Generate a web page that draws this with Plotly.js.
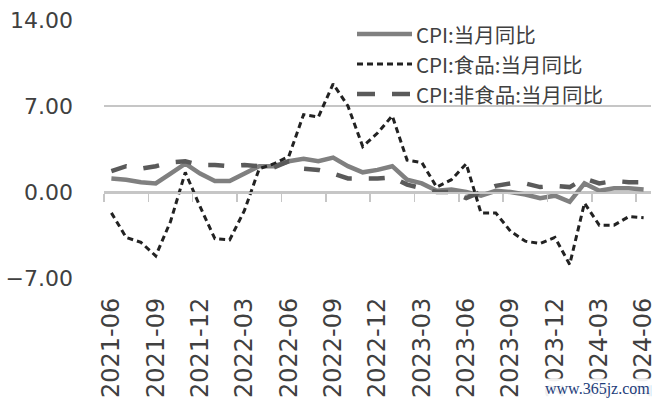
<!DOCTYPE html>
<html><head><meta charset="utf-8">
<script src="https://cdn.plot.ly/plotly-3.0.1.min.js"></script>
<style>html,body{margin:0;padding:0;background:#fff}#chart{width:666px;height:402px}</style>
</head><body><div id="chart"></div>
<script>
const months = ['2021-06','2021-07','2021-08','2021-09','2021-10','2021-11','2021-12',
  '2022-01','2022-02','2022-03','2022-04','2022-05','2022-06','2022-07','2022-08','2022-09','2022-10','2022-11','2022-12',
  '2023-01','2023-02','2023-03','2023-04','2023-05','2023-06','2023-07','2023-08','2023-09','2023-10','2023-11','2023-12',
  '2024-01','2024-02','2024-03','2024-04','2024-05','2024-06'];
const cpiTotal = [1.1,1.0,0.8,0.7,1.5,2.3,1.5, 0.9,0.9,1.5,2.1,2.1,2.5,2.7,2.5,2.8,2.1,1.6,1.8, 2.1,1.0,0.7,0.1,0.2,0.0,-0.3,0.1,0.0,-0.2,-0.5,-0.3, -0.8,0.7,0.1,0.3,0.3,0.2];
const cpiFood = [-1.7,-3.7,-4.1,-5.2,-2.4,1.6,-1.2, -3.8,-3.9,-1.5,1.9,2.3,2.9,6.3,6.1,8.8,7.0,3.7,4.8, 6.2,2.6,2.4,0.4,1.0,2.3,-1.7,-1.7,-3.2,-4.0,-4.2,-3.7, -5.9,-0.9,-2.7,-2.7,-2.0,-2.1];
const cpiNonFood = [1.7,2.1,1.9,2.1,2.4,2.5,2.2, 2.2,2.1,2.2,2.1,2.0,2.5,1.9,1.8,1.5,1.1,1.1,1.1, 1.2,0.6,0.3,0.0,0.0,-0.5,0.0,0.5,0.7,0.7,0.4,0.5, 0.4,1.1,0.7,0.9,0.8,0.8];
const seriesNames = ['CPI:当月同比','CPI:食品:当月同比','CPI:非食品:当月同比'];
const yTicks = [-7, 0, 7, 14];
const xTickLabels = months.filter((m, i) => i % 3 === 0);
const watermark = 'www.365jz.com';

// layout geometry (pixels)
const W = 666, H = 402;
const mL = 104, mR = 15, mT = 20, mB = 124;
const pw = W - mL - mR, ph = H - mT - mB;
const px = v => (v - mL) / pw;
const py = v => (H - mB - v) / ph;

const styles = [
  {color: '#808080', width: 4.5, dash: 'solid', legDash: 'solid'},
  {color: '#222222', width: 3, dash: '6px,4px', legDash: '6px,4px'},
  {color: '#5a5a5a', width: 4.5, dash: '16px,17px', legDash: '18px,17px'}
];
const series = [cpiTotal, cpiFood, cpiNonFood];

const traces = series.map((vals, k) => ({
  type: 'scatter', mode: 'lines', x: months, y: vals, name: seriesNames[k],
  line: {color: styles[k].color, width: styles[k].width, dash: styles[k].dash},
  showlegend: false, hoverinfo: 'x+y'
}));
traces.unshift({type: 'scatter', x: [], y: [], xaxis: 'x2', yaxis: 'y', showlegend: false, hoverinfo: 'skip'});

const yMin = yTicks[0], yMax = yTicks[yTicks.length - 1];
const boundaryTicks = [];
for (let i = 0; i < months.length; i += 3) boundaryTicks.push(i - 0.5);

const legRows = [34, 64, 94];
const shapes = legRows.map((r, k) => ({
  type: 'line', xref: 'paper', yref: 'paper',
  x0: px(357), x1: px(412), y0: py(r), y1: py(r),
  line: {color: styles[k].color, width: styles[k].width, dash: styles[k].legDash}
}));
const annotations = legRows.map((r, k) => ({
  xref: 'paper', yref: 'paper', x: px(415), y: py(r), xanchor: 'left', yanchor: 'middle',
  text: seriesNames[k], showarrow: false, borderpad: 0,
  font: {family: 'Noto Sans CJK SC', size: 20.5, color: '#404040'}
}));
annotations.push({
  xref: 'paper', yref: 'paper', x: px(652), y: py(389), xanchor: 'right', yanchor: 'middle',
  text: watermark, showarrow: false, bgcolor: 'rgba(255,255,255,0.92)',
  font: {family: 'Liberation Serif', size: 16, color: '#1d3d7a'}
});

const layout = {
  width: W, height: H,
  margin: {l: mL, r: mR, t: mT, b: mB, pad: 0},
  paper_bgcolor: '#fff', plot_bgcolor: '#fff',
  showlegend: false,
  xaxis: {
    type: 'category', range: [-0.5, months.length - 0.5],
    tickmode: 'array', tickvals: xTickLabels, ticktext: xTickLabels,
    tickangle: -90, ticks: '', showgrid: false, zeroline: false, showline: false,
    tickfont: {family: 'DejaVu Sans', size: 24, color: '#404040'},
    ticklabelstandoff: 14
  },
  xaxis2: {
    overlaying: 'x', anchor: 'free', position: (0 - yMin) / (yMax - yMin),
    type: 'linear', range: [-0.5, months.length - 0.5],
    tickmode: 'array', tickvals: boundaryTicks,
    ticks: 'outside', ticklen: 8, tickwidth: 1.5, tickcolor: '#c6c6c6',
    showline: true, linecolor: '#c6c6c6', linewidth: 1.5,
    showticklabels: false, showgrid: false, zeroline: false
  },
  yaxis: {
    range: [yMin, yMax], tickmode: 'array', tickvals: yTicks, tickformat: '.2f',
    showgrid: true, gridcolor: '#c6c6c6', gridwidth: 1.5,
    zeroline: false, showline: false, ticks: '',
    tickfont: {family: 'DejaVu Sans', size: 22, color: '#404040'},
    ticklabelstandoff: 30
  },
  shapes: shapes,
  annotations: annotations
};

Plotly.newPlot('chart', traces, layout, {displayModeBar: false, staticPlot: true});
</script>
</body></html>
